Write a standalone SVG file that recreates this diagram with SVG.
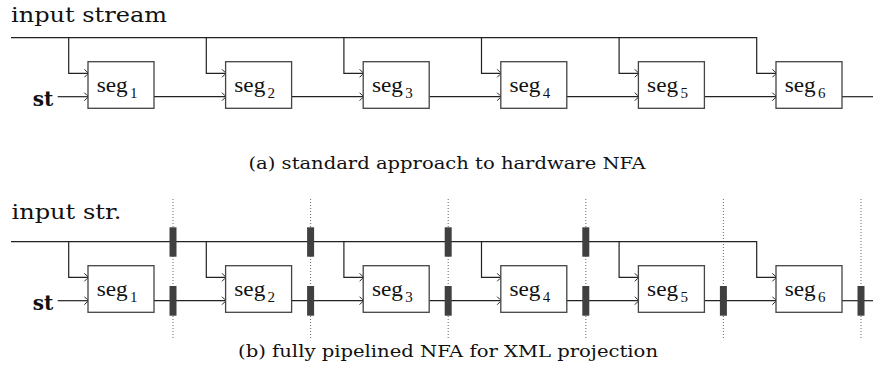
<svg xmlns="http://www.w3.org/2000/svg" width="873" height="376" viewBox="0 0 873 376">
<defs>
<marker id="to" viewBox="-5 -5 7 10" markerWidth="7" markerHeight="10" refX="0" refY="0" markerUnits="userSpaceOnUse" orient="auto">
<path d="M-3.6,-4 Q-0.6,-0.8 0.6,0 Q-0.6,0.8 -3.6,4" fill="none" stroke="#222" stroke-width="1"/>
</marker>
<style>
.box{fill:#fff;stroke:#444;stroke-width:1.3}
.ln{fill:none;stroke:#222;stroke-width:1.2}
.ar{fill:none;stroke:#222;stroke-width:1.2;marker-end:url(#to)}
.dot{stroke:#666;stroke-width:1;stroke-dasharray:1 2;fill:none}
.bar{fill:#404040}
text{fill:#111}
</style>
</defs>

<g font-family="'DejaVu Serif', 'Liberation Serif', serif">
<text x="11" y="22" font-size="21" textLength="156" lengthAdjust="spacingAndGlyphs">input stream</text>
<text x="11.5" y="219.3" font-size="21" textLength="110" lengthAdjust="spacingAndGlyphs">input str.</text>
<text x="32.7" y="106" font-size="20" font-weight="bold" textLength="20.6" lengthAdjust="spacingAndGlyphs">st</text>
<text x="32.7" y="310" font-size="20" font-weight="bold" textLength="20.6" lengthAdjust="spacingAndGlyphs">st</text>
<text x="248.5" y="168.5" font-size="16" textLength="397" lengthAdjust="spacingAndGlyphs">(a) standard approach to hardware NFA</text>
<text x="238" y="357" font-size="16" textLength="420" lengthAdjust="spacingAndGlyphs">(b) fully pipelined NFA for XML projection</text>
</g>

<g id="dotted">
<line class="dot" x1="173" y1="199" x2="173" y2="338"/>
<line class="dot" x1="310.6" y1="199" x2="310.6" y2="338"/>
<line class="dot" x1="448.2" y1="199" x2="448.2" y2="338"/>
<line class="dot" x1="585.8" y1="199" x2="585.8" y2="338"/>
<line class="dot" x1="723.4" y1="199" x2="723.4" y2="338"/>
<line class="dot" x1="861" y1="199" x2="861" y2="338"/>
</g>

<g id="connectors">
<path class="ar" d="M11,37.7 H756.7 V73.3 H776"/>
<path class="ar" d="M68.7,37.7 V73.3 H88"/>
<path class="ar" d="M206.3,37.7 V73.3 H225.6"/>
<path class="ar" d="M343.9,37.7 V73.3 H363.2"/>
<path class="ar" d="M481.5,37.7 V73.3 H500.8"/>
<path class="ar" d="M619.1,37.7 V73.3 H638.4"/>
<path class="ar" d="M57.7,96.7 H88"/>
<path class="ar" d="M154,96.7 H225.6"/>
<path class="ar" d="M291.6,96.7 H363.2"/>
<path class="ar" d="M429.2,96.7 H500.8"/>
<path class="ar" d="M566.8,96.7 H638.4"/>
<path class="ar" d="M704.4,96.7 H776"/>
<path class="ln" d="M842,96.7 H873"/>

<path class="ar" d="M11,241.7 H756.7 V277.3 H776"/>
<path class="ar" d="M68.7,241.7 V277.3 H88"/>
<path class="ar" d="M206.3,241.7 V277.3 H225.6"/>
<path class="ar" d="M343.9,241.7 V277.3 H363.2"/>
<path class="ar" d="M481.5,241.7 V277.3 H500.8"/>
<path class="ar" d="M619.1,241.7 V277.3 H638.4"/>
<path class="ar" d="M57.7,300.7 H88"/>
<path class="ar" d="M154,300.7 H225.6"/>
<path class="ar" d="M291.6,300.7 H363.2"/>
<path class="ar" d="M429.2,300.7 H500.8"/>
<path class="ar" d="M566.8,300.7 H638.4"/>
<path class="ar" d="M704.4,300.7 H776"/>
<path class="ln" d="M842,300.7 H873"/>
</g>

<g id="registers">
<rect class="bar" x="169.5" y="227.3" width="7" height="29.4"/>
<rect class="bar" x="307.1" y="227.3" width="7" height="29.4"/>
<rect class="bar" x="444.7" y="227.3" width="7" height="29.4"/>
<rect class="bar" x="582.3" y="227.3" width="7" height="29.4"/>
<rect class="bar" x="169.5" y="286" width="7" height="29.7"/>
<rect class="bar" x="307.1" y="286" width="7" height="29.7"/>
<rect class="bar" x="444.7" y="286" width="7" height="29.7"/>
<rect class="bar" x="582.3" y="286" width="7" height="29.7"/>
<rect class="bar" x="719.9" y="286" width="7" height="29.7"/>
<rect class="bar" x="857.5" y="286" width="7" height="29.7"/>
</g>

<g font-family="'Liberation Serif', 'DejaVu Serif', serif">
<g id="a-seg1"><rect class="box" x="88" y="61.7" width="66" height="46.6"/><text x="96.7" y="91.7" font-size="22" textLength="31" lengthAdjust="spacingAndGlyphs">seg</text><text x="130" y="98.3" font-size="15">1</text></g>
<g id="a-seg2"><rect class="box" x="225.6" y="61.7" width="66" height="46.6"/><text x="234.3" y="91.7" font-size="22" textLength="31" lengthAdjust="spacingAndGlyphs">seg</text><text x="267.6" y="98.3" font-size="15">2</text></g>
<g id="a-seg3"><rect class="box" x="363.2" y="61.7" width="66" height="46.6"/><text x="371.9" y="91.7" font-size="22" textLength="31" lengthAdjust="spacingAndGlyphs">seg</text><text x="405.2" y="98.3" font-size="15">3</text></g>
<g id="a-seg4"><rect class="box" x="500.8" y="61.7" width="66" height="46.6"/><text x="509.5" y="91.7" font-size="22" textLength="31" lengthAdjust="spacingAndGlyphs">seg</text><text x="542.8" y="98.3" font-size="15">4</text></g>
<g id="a-seg5"><rect class="box" x="638.4" y="61.7" width="66" height="46.6"/><text x="647.1" y="91.7" font-size="22" textLength="31" lengthAdjust="spacingAndGlyphs">seg</text><text x="680.4" y="98.3" font-size="15">5</text></g>
<g id="a-seg6"><rect class="box" x="776" y="61.7" width="66" height="46.6"/><text x="784.7" y="91.7" font-size="22" textLength="31" lengthAdjust="spacingAndGlyphs">seg</text><text x="818" y="98.3" font-size="15">6</text></g>

<g id="b-seg1"><rect class="box" x="88" y="265.7" width="66" height="46.6"/><text x="96.7" y="295.7" font-size="22" textLength="31" lengthAdjust="spacingAndGlyphs">seg</text><text x="130" y="302.3" font-size="15">1</text></g>
<g id="b-seg2"><rect class="box" x="225.6" y="265.7" width="66" height="46.6"/><text x="234.3" y="295.7" font-size="22" textLength="31" lengthAdjust="spacingAndGlyphs">seg</text><text x="267.6" y="302.3" font-size="15">2</text></g>
<g id="b-seg3"><rect class="box" x="363.2" y="265.7" width="66" height="46.6"/><text x="371.9" y="295.7" font-size="22" textLength="31" lengthAdjust="spacingAndGlyphs">seg</text><text x="405.2" y="302.3" font-size="15">3</text></g>
<g id="b-seg4"><rect class="box" x="500.8" y="265.7" width="66" height="46.6"/><text x="509.5" y="295.7" font-size="22" textLength="31" lengthAdjust="spacingAndGlyphs">seg</text><text x="542.8" y="302.3" font-size="15">4</text></g>
<g id="b-seg5"><rect class="box" x="638.4" y="265.7" width="66" height="46.6"/><text x="647.1" y="295.7" font-size="22" textLength="31" lengthAdjust="spacingAndGlyphs">seg</text><text x="680.4" y="302.3" font-size="15">5</text></g>
<g id="b-seg6"><rect class="box" x="776" y="265.7" width="66" height="46.6"/><text x="784.7" y="295.7" font-size="22" textLength="31" lengthAdjust="spacingAndGlyphs">seg</text><text x="818" y="302.3" font-size="15">6</text></g>
</g>
</svg>
